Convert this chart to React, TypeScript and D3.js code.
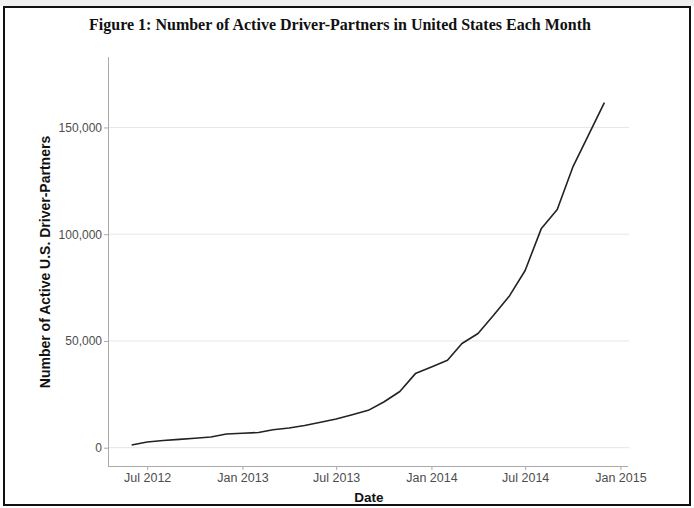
import { useEffect, useRef } from 'react';
import * as d3 from 'd3';

const months = [
  '2012-06', '2012-07', '2012-08', '2012-09', '2012-10', '2012-11', '2012-12',
  '2013-01', '2013-02', '2013-03', '2013-04', '2013-05', '2013-06', '2013-07',
  '2013-08', '2013-09', '2013-10', '2013-11', '2013-12',
  '2014-01', '2014-02', '2014-03', '2014-04', '2014-05', '2014-06', '2014-07',
  '2014-08', '2014-09', '2014-10', '2014-11', '2014-12',
];
const drivers = [
  1300, 2700, 3400, 3900, 4400, 5000, 6400,
  6800, 7100, 8400, 9200, 10400, 11900, 13400,
  15400, 17500, 21400, 26300, 34700,
  37800, 41000, 48800, 53500, 62000, 71200, 83000,
  102500, 111600, 131400, 146800, 161600,
];
const yTicks = [0, 50000, 100000, 150000];
const xTicks = ['2012-07', '2013-01', '2013-07', '2014-01', '2014-07', '2015-01'];

const W = 694;
const H = 508;

const App = () => {
  const svgRef = useRef();

  useEffect(() => {
    const svg = d3.select(svgRef.current);
    svg.selectAll('*').remove();

    const parse = d3.timeParse('%Y-%m');
    const data = months.map((m, i) => ({ date: parse(m), value: drivers[i] }));

    const left = 108, right = 628, top = 57, bottom = 466;

    // ggplot-style 5% expansion on the dates
    const [d0, d1] = d3.extent(data, d => d.date);
    const pad = (d1 - d0) * 0.05;
    const x = d3.scaleTime()
      .domain([new Date(+d0 - pad), new Date(+d1 + pad)])
      .range([left, right]);

    const y = d3.scaleLinear()
      .domain([-8575, 183000])
      .range([bottom, top]);

    // frame
    svg.append('rect')
      .attr('x', 0).attr('y', 0).attr('width', W).attr('height', 6)
      .attr('fill', '#f0f0f0');
    svg.append('rect')
      .attr('x', 4).attr('y', 7).attr('width', 686).attr('height', 498)
      .attr('fill', 'white').attr('stroke', '#111').attr('stroke-width', 2);

    svg.append('text')
      .attr('x', 340).attr('y', 30)
      .attr('text-anchor', 'middle')
      .attr('font-family', '"Liberation Serif", "Times New Roman", serif')
      .attr('font-weight', 'bold')
      .attr('font-size', 16)
      .attr('fill', '#111')
      .text('Figure 1: Number of Active Driver-Partners in United States Each Month');

    // gridlines
    svg.append('g')
      .selectAll('line')
      .data(yTicks)
      .join('line')
      .attr('x1', left).attr('x2', right + 1)
      .attr('y1', d => y(d)).attr('y2', d => y(d))
      .attr('stroke', '#e6e6e6').attr('stroke-width', 1);

    const font = '"Liberation Sans", Arial, sans-serif';

    // y axis
    const yAxis = svg.append('g')
      .attr('transform', `translate(${left},0)`)
      .call(d3.axisLeft(y).tickValues(yTicks).tickSize(4).tickPadding(2)
        .tickFormat(d3.format(',')).tickSizeOuter(0));
    yAxis.select('.domain').attr('stroke', '#aaa').attr('d', `M0.5,${top}V${bottom}`);
    yAxis.selectAll('.tick line').attr('stroke', '#aaa');
    yAxis.selectAll('.tick text')
      .attr('font-family', font).attr('font-size', 12).attr('fill', '#4d4d4d');

    // x axis
    const xAxis = svg.append('g')
      .attr('transform', `translate(0,${bottom})`)
      .call(d3.axisBottom(x).tickValues(xTicks.map(parse)).tickSize(4).tickPadding(3)
        .tickFormat(d3.timeFormat('%b %Y')).tickSizeOuter(0));
    xAxis.select('.domain').attr('stroke', '#aaa').attr('d', `M${left},0.5H${right}`);
    xAxis.selectAll('.tick line').attr('stroke', '#aaa');
    xAxis.selectAll('.tick text')
      .attr('font-family', font).attr('font-size', 12.5).attr('fill', '#4d4d4d');

    // axis titles
    svg.append('text')
      .attr('transform', `translate(50,262) rotate(-90)`)
      .attr('text-anchor', 'middle')
      .attr('font-family', font).attr('font-weight', 'bold').attr('font-size', 14)
      .attr('fill', '#111')
      .text('Number of Active U.S. Driver-Partners');

    svg.append('text')
      .attr('x', 369).attr('y', 502)
      .attr('text-anchor', 'middle')
      .attr('font-family', font).attr('font-weight', 'bold').attr('font-size', 13.5)
      .attr('fill', '#111')
      .text('Date');

    // the line
    const line = d3.line()
      .x(d => x(d.date))
      .y(d => y(d.value));

    svg.append('path')
      .datum(data)
      .attr('d', line)
      .attr('fill', 'none')
      .attr('stroke', '#222')
      .attr('stroke-width', 1.6)
      .attr('stroke-linejoin', 'round');
  }, []);

  return (
    <svg ref={svgRef} width={W} height={H} viewBox={`0 0 ${W} ${H}`}
      style={{ position: 'absolute', left: 0, top: 0, background: 'white' }} />
  );
};

export default App;
